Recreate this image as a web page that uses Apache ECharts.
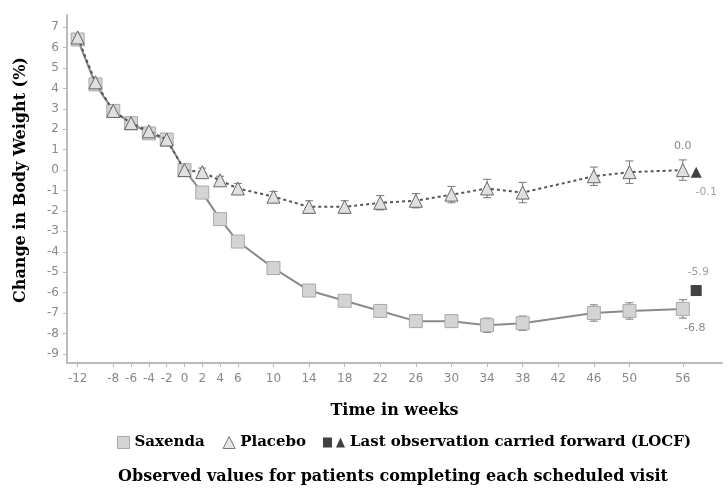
<!DOCTYPE html>
<html>
<head>
<meta charset="utf-8">
<script src="https://cdn.jsdelivr.net/npm/echarts@6/dist/echarts.min.js"></script>
<style>html,body{margin:0;padding:0;background:#fff}#c{width:728px;height:495px}</style>
</head>
<body>
<div id="c"></div>
<script>
var weeks = [-12,-10,-8,-6,-4,-2,0,2,4,6,10,14,18,22,26,30,34,38,46,50,56];
var saxenda = [6.4,4.2,2.9,2.3,1.8,1.5,0.0,-1.1,-2.4,-3.5,-4.8,-5.9,-6.4,-6.9,-7.4,-7.4,-7.6,-7.5,-7.0,-6.9,-6.8];
var placebo = [6.5,4.3,2.9,2.3,1.9,1.5,0.0,-0.1,-0.5,-0.9,-1.3,-1.8,-1.8,-1.6,-1.5,-1.2,-0.9,-1.1,-0.3,-0.1,0.0];
var saxErr = [0.1,0.15,0.15,0.15,0.15,0.15,0,0.15,0.2,0.2,0.2,0.25,0.25,0.3,0.3,0.3,0.35,0.35,0.4,0.4,0.45];
var plaErr = [0.1,0.15,0.15,0.15,0.15,0.15,0,0.2,0.2,0.25,0.25,0.3,0.3,0.35,0.35,0.4,0.45,0.5,0.45,0.55,0.5];
var locfWeek = 57.5;
var locfSaxenda = -5.9;
var locfPlacebo = -0.1;
var xTicks = [-12,-8,-6,-4,-2,0,2,4,6,10,14,18,22,26,30,34,38,42,46,50,56];
var yTicks = [-9,-8,-7,-6,-5,-4,-3,-2,-1,0,1,2,3,4,5,6,7];

var serif = 'DejaVu Serif';
var chart = echarts.init(document.getElementById('c'));

function pairs(xs, ys) { return xs.map(function (x, i) { return [x, ys[i]]; }); }
function errData(xs, ys, es) { return xs.map(function (x, i) { return [x, ys[i] - es[i], ys[i] + es[i]]; }); }
function errRender(params, api) {
  var x = api.value(0);
  var lo = api.coord([x, api.value(1)]);
  var hi = api.coord([x, api.value(2)]);
  var w = 4;
  return {
    type: 'group',
    children: [
      {type: 'line', shape: {x1: lo[0], y1: lo[1], x2: hi[0], y2: hi[1]}, style: {stroke: '#777', lineWidth: 1}},
      {type: 'line', shape: {x1: lo[0] - w, y1: lo[1], x2: lo[0] + w, y2: lo[1]}, style: {stroke: '#777', lineWidth: 1}},
      {type: 'line', shape: {x1: hi[0] - w, y1: hi[1], x2: hi[0] + w, y2: hi[1]}, style: {stroke: '#777', lineWidth: 1}}
    ]
  };
}

var saxPts = pairs(weeks, saxenda).map(function (p, i) {
  if (i === weeks.length - 1) return {value: p, label: {show: true, position: 'bottom', offset: [12, 2], formatter: p[1].toFixed(1)}};
  return p;
});
var plaPts = pairs(weeks, placebo).map(function (p, i) {
  if (i === weeks.length - 1) return {value: p, label: {show: true, position: 'top', offset: [0, -6], formatter: p[1].toFixed(1)}};
  return p;
});

var labelStyle = {color: '#888', fontSize: 11, fontFamily: 'DejaVu Sans'};
var legendText = {color: '#000', fontWeight: 'bold', fontFamily: serif, fontSize: 15};

chart.setOption({
  animation: false,
  grid: {left: 67, right: 6, top: 15, bottom: 132},
  xAxis: {
    type: 'value', min: -13.2, max: 60.4,
    axisLine: {onZero: false, lineStyle: {color: '#bbb', width: 2}},
    axisTick: {show: true, customValues: xTicks, length: 4, lineStyle: {color: '#bbb'}},
    axisLabel: {customValues: xTicks, color: '#888', fontSize: 12, fontFamily: 'DejaVu Sans', margin: 10},
    splitLine: {show: false},
    name: 'Time in weeks', nameLocation: 'middle', nameGap: 40,
    nameTextStyle: {color: '#000', fontWeight: 'bold', fontFamily: serif, fontSize: 16}
  },
  yAxis: {
    type: 'value', min: -9.45, max: 7.6,
    axisLine: {show: true, onZero: false, lineStyle: {color: '#bbb', width: 2}},
    axisTick: {show: true, customValues: yTicks, length: 4, lineStyle: {color: '#bbb'}},
    axisLabel: {customValues: yTicks, color: '#888', fontSize: 12, fontFamily: 'DejaVu Sans', margin: 8},
    splitLine: {show: false},
    name: 'Change in Body Weight (%)', nameLocation: 'middle', nameGap: 38, nameRotate: 90,
    nameTextStyle: {color: '#000', fontWeight: 'bold', fontFamily: serif, fontSize: 16, padding: [0, 0, 0, 18]}
  },
  legend: [{
    left: 112, top: 430, itemGap: 18, itemWidth: 12, itemHeight: 12,
    textStyle: legendText,
    data: [
      {name: 'Saxenda', icon: 'rect', itemStyle: {color: '#d4d4d4', borderColor: '#aaa', borderWidth: 1}},
      {name: 'Placebo', icon: 'triangle', itemStyle: {color: '#e6e6e6', borderColor: '#777', borderWidth: 1}}
    ]
  }, {
    left: 318, top: 430, itemWidth: 22, itemHeight: 10,
    textStyle: legendText,
    data: [
      {name: 'Last observation carried forward (LOCF)', icon: 'path://M0,0H9V10H0Z M13,10L17.5,0L22,10Z', itemStyle: {color: '#111'}}
    ]
  }],
  graphic: [{
    type: 'text', left: 118, top: 469,
    style: {text: 'Observed values for patients completing each scheduled visit', fill: '#000', font: 'bold 16px "DejaVu Serif"'}
  }],
  series: [
    {type: 'custom', name: 'saxErr', renderItem: errRender, data: errData(weeks, saxenda, saxErr), encode: {x: 0, y: [1, 2]}, z: 1, silent: true},
    {type: 'custom', name: 'plaErr', renderItem: errRender, data: errData(weeks, placebo, plaErr), encode: {x: 0, y: [1, 2]}, z: 1, silent: true},
    {
      type: 'line', name: 'Saxenda', data: saxPts, symbol: 'rect', symbolSize: 13,
      lineStyle: {color: '#8a8a8a', width: 2},
      itemStyle: {color: '#d4d4d4', borderColor: '#aaa', borderWidth: 1},
      label: labelStyle, z: 3
    },
    {
      type: 'line', name: 'Placebo', data: plaPts, symbol: 'triangle', symbolSize: 13,
      lineStyle: {color: '#555', width: 2, type: [3, 3]},
      itemStyle: {color: '#e0e0e0', borderColor: '#666', borderWidth: 1},
      label: labelStyle, z: 4
    },
    {
      type: 'scatter', name: 'Last observation carried forward (LOCF)',
      data: [{value: [locfWeek, locfSaxenda], label: {show: true, position: 'top', offset: [2, -2], formatter: locfSaxenda.toFixed(1)}}],
      symbol: 'rect', symbolSize: 11, itemStyle: {color: '#111'}, label: labelStyle, z: 5
    },
    {
      type: 'scatter', name: 'LOCF triangle',
      data: [{value: [locfWeek, locfPlacebo], label: {show: true, position: 'bottom', offset: [10, 4], formatter: locfPlacebo.toFixed(1)}}],
      symbol: 'triangle', symbolSize: 11, itemStyle: {color: '#111'}, label: labelStyle, z: 5
    }
  ]
});
</script>
</body>
</html>
